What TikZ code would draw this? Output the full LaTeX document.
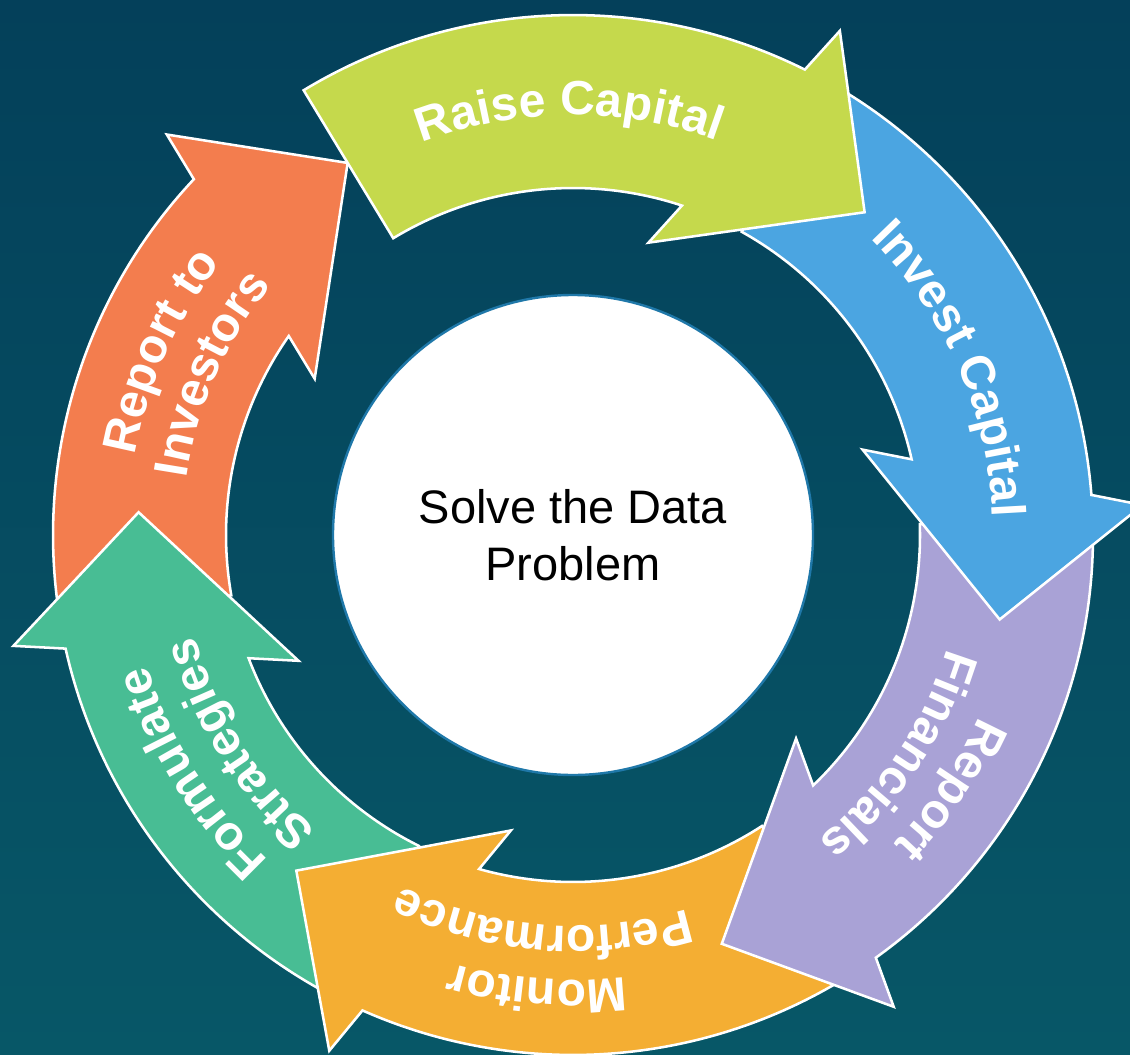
\documentclass[tikz,border=0pt]{standalone}
\usepackage{fontspec}
\setmainfont{Liberation Sans}
\usetikzlibrary{decorations.text}

\definecolor{bgtop}{HTML}{04405A}
\definecolor{bgbot}{HTML}{075767}
\definecolor{limefill}{HTML}{C5D94C}
\definecolor{bluefill}{HTML}{4BA5E1}
\definecolor{purplefill}{HTML}{A9A2D6}
\definecolor{orangefill}{HTML}{F4AE33}
\definecolor{greenfill}{HTML}{48BD94}
\definecolor{redfill}{HTML}{F37D4E}
\definecolor{coreline}{HTML}{1F78A9}

\tikzset{every picture/.style={line width=0.75pt}}
\tikzset{
  arrowshape/.style={draw=white, line width=1.9pt, line join=miter},
  core/.style={circle, fill=white, draw=coreline, line width=1.8pt, minimum size=360pt,
    inner sep=0pt, align=center, font=\fontsize{35.25}{42.75}\selectfont},
}
\newcommand{\labelfont}{\fontsize{36}{43}\selectfont\bfseries}
% fill, tail angle, tip angle (clockwise ring arrow)
\newcommand{\cyclearrow}[3]{%
  \pgfmathsetmacro{\tailang}{#2-#3}
  \draw[arrowshape, fill=#1, rotate=#3] (\tailang:520) arc[start angle=\tailang, end angle=15.62, radius=520]
    -- (553,140) -- (435,0) -- (267.5,140) -- (23.80:347) arc[start angle=23.80, end angle=\tailang, radius=347] -- cycle;
}
% centre angle, baseline radius, text
\newcommand{\ringlabel}[3]{%
  \path[decorate, decoration={text along path, text={|\labelfont|#3}, text color=white, text align=center}]
    ({#1+60}:#2) arc[start angle={#1+60}, end angle={#1-60}, radius=#2];
}

\begin{document}
\begin{tikzpicture}[x=0.75pt,y=0.75pt]
%Background
\useasboundingbox (-573,-519) rectangle (557,535);
\shade[top color=bgtop, bottom color=bgbot] (-573,-519) rectangle (557,535);

%Shape: Circular Arrows
\cyclearrow{redfill}{190}{121.2}
\cyclearrow{greenfill}{-116.4}{-183}
\cyclearrow{orangefill}{-57}{-129.5}
\cyclearrow{purplefill}{1.8}{-70}
\cyclearrow{bluefill}{60.9}{-11.2}
\cyclearrow{limefill}{121.2}{47.9}

% Text along arcs
\ringlabel{90.5}{420}{Raise Capital}
\ringlabel{23.7}{420}{Invest Capital}
\ringlabel{-34}{445}{Report}
\ringlabel{-34}{391}{Financials}
\ringlabel{-94.5}{445}{Monitor}
\ringlabel{-94.5}{391}{Performance}
\ringlabel{-148}{445}{Formulate}
\ringlabel{-148}{391}{Strategies}
\ringlabel{156}{445}{Report to}
\ringlabel{156}{391}{Investors}

% Centre Node
\node[core] (core) at (0,0) {Solve the Data\\Problem};

\end{tikzpicture}
\end{document}
